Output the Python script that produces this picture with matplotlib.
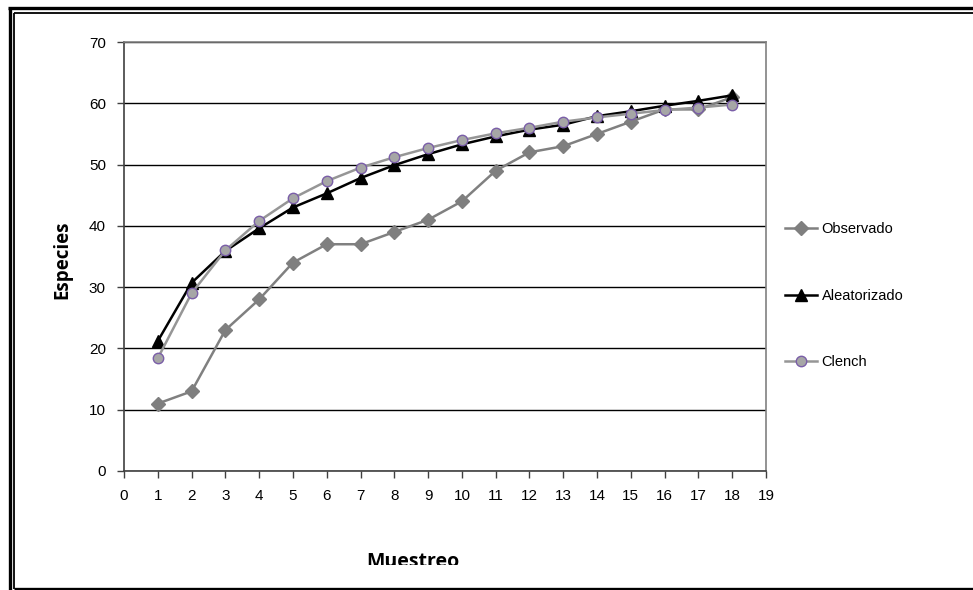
import numpy as np
import matplotlib
matplotlib.use("Agg")
import matplotlib.pyplot as plt
from matplotlib.lines import Line2D
from matplotlib.transforms import Bbox, TransformedBbox

# data
muestreo = list(range(1, 19))
observado = [11, 13, 23, 28, 34, 37, 37, 39, 41, 44, 49, 52, 53, 55, 57, 59, 59, 61]
aleatorizado = [21.2, 30.7, 35.9, 39.6, 43.0, 45.3, 47.8, 49.9, 51.7, 53.3,
                54.6, 55.7, 56.5, 57.9, 58.7, 59.6, 60.4, 61.3]
clench = [18.4, 29.0, 36.0, 40.8, 44.5, 47.3, 49.5, 51.2, 52.7, 54.0,
          55.1, 56.0, 57.0, 57.7, 58.3, 58.9, 59.3, 59.8]

x_ticks = list(range(0, 20))
y_ticks = list(range(0, 80, 10))

plt.rcParams['font.family'] = ['Liberation Sans', 'DejaVu Sans']

fig = plt.figure(figsize=(9.73, 5.90), dpi=100)
W, H = 973.0, 590.0
ax = fig.add_axes([124 / W, 1 - 471 / H, (766 - 124) / W, (471 - 42) / H])

ax.plot(muestreo, observado, color='#808080', lw=1.8, marker='D', ms=7,
        mfc='#7f7f7f', mec='#7f7f7f', label='Observado', zorder=3)
ax.plot(muestreo, aleatorizado, color='black', lw=1.8, marker='^', ms=9,
        mfc='black', mec='black', label='Aleatorizado', zorder=4)
ax.plot(muestreo, clench, color='#969696', lw=1.8, marker='o', ms=7.5,
        mfc='#a6a6a6', mec='#7a5ea8', mew=1.0, label='Clench', zorder=5)

ax.set_xlim(0, 19)
ax.set_ylim(0, 70)
ax.set_xticks(x_ticks)
ax.set_yticks(y_ticks)
ax.tick_params(axis='both', direction='out', length=5, width=1,
               color='#404040', labelsize=11, pad=8)
ax.yaxis.grid(True, color='black', lw=1)
ax.set_axisbelow(True)

for side in ['top', 'right']:
    ax.spines[side].set_color('#808080')
    ax.spines[side].set_linewidth(1.2)
for side in ['left', 'bottom']:
    ax.spines[side].set_color('#404040')
    ax.spines[side].set_linewidth(1.2)

fig.text(62 / W, 1 - 260 / H, 'Especies', rotation=90, ha='center', va='center',
         fontsize=13.5, fontweight='bold', family=['Open Sans', 'DejaVu Sans'])
# x label is cut off at the bottom in the original
xl = fig.text(413 / W, 1 - 567 / H, 'Muestreo', ha='center', va='baseline',
              fontsize=14, fontweight='bold', family=['Open Sans', 'DejaVu Sans'])
xl.set_clip_box(TransformedBbox(Bbox([[0, 1 - 565 / H], [1, 1]]), fig.transFigure))
xl.set_clip_on(True)

ax.legend(loc='upper left', bbox_to_anchor=(778 / W, 1 - 215 / H),
          bbox_transform=fig.transFigure, frameon=False, fontsize=10.5,
          handlelength=2.2, handletextpad=0.3, labelspacing=3.6,
          borderpad=0)

# double frame around the chart
def frame_line(xs, ys, lw):
    fig.add_artist(Line2D([x / W for x in xs], [1 - y / H for y in ys],
                          transform=fig.transFigure, color='black', lw=lw,
                          solid_capstyle='butt'))

frame_line([9.5, 9.5], [590, 7.5], 2.4)
frame_line([8.3, 973], [7.5, 7.5], 2.4)
frame_line([14, 14], [589, 13], 1.3)
frame_line([13.5, 973], [13, 13], 1.3)
frame_line([13.5, 973], [588.5, 588.5], 2.4)

fig.savefig('out.png', dpi=100)
